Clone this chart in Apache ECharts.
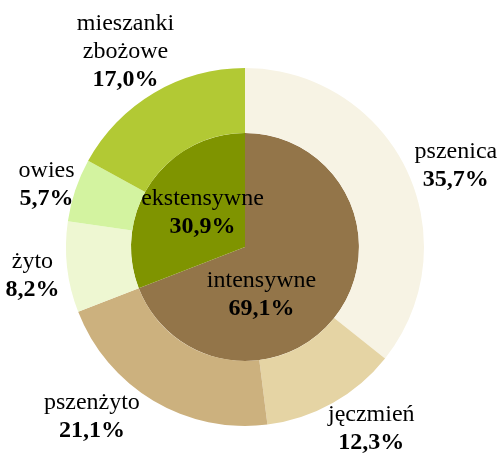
<!DOCTYPE html>
<html>
<head>
<meta charset="utf-8">
<script src="https://cdn.jsdelivr.net/npm/echarts@6/dist/echarts.min.js"></script>
<style>
  html, body { margin: 0; padding: 0; background: #fff; }
  #chart { width: 498px; height: 453px; }
</style>
</head>
<body>
<div id="chart"></div>
<script>
// udział gospodarstw (wewnętrzny pierścień) i zbóż (zewnętrzny)
const groupNames = ['intensywne', 'ekstensywne'];
const groupValues = [69.1, 30.9];
const groupColors = ['#937549', '#7F9400'];

const cropNames = ['pszenica', 'jęczmień', 'pszenżyto', 'żyto', 'owies', 'mieszanki\nzbożowe'];
const cropValues = [35.7, 12.3, 21.1, 8.2, 5.7, 17.0];
const cropColors = ['#F7F3E4', '#E5D4A4', '#CCB17E', '#EEF7D2', '#D3F3A0', '#B2C934'];

// drobne przesunięcia etykiet
const groupLabelShift = [[-33, 14], [7, 0]];
const cropLabelShift = [[10, 16], [17, -13], [-39, -22], [9, 4], [13, 9], [-6, -3]];

const fmt = v => v.toFixed(1).replace('.', ',') + '%';

const serif = 'Liberation Serif';
const rich = {
  n: { fontFamily: serif, fontSize: 24, lineHeight: 28, color: '#000' },
  v: { fontFamily: serif, fontSize: 24, lineHeight: 28, fontWeight: 'bold', color: '#000' }
};
const labelFormatter = p => p.name.split('\n').map(s => '{n|' + s + '}').join('\n') + '\n{v|' + fmt(p.value) + '}';

const chart = echarts.init(document.getElementById('chart'), null, { renderer: 'canvas' });
chart.setOption({
  animation: false,
  textStyle: { fontFamily: serif },
  series: [
    {
      type: 'pie',
      center: [245, 247],
      radius: [0, 114],
      label: { show: true, position: 'inside', fontFamily: serif, formatter: labelFormatter, rich: rich },
      labelLine: { show: false },
      labelLayout: p => ({ dx: groupLabelShift[p.dataIndex][0], dy: groupLabelShift[p.dataIndex][1] }),
      silent: true,
      data: groupNames.map((n, i) => ({ name: n, value: groupValues[i], itemStyle: { color: groupColors[i] } }))
    },
    {
      type: 'pie',
      center: [245, 247],
      radius: [114, 179],
      label: { show: false },
      labelLine: { show: false },
      silent: true,
      data: cropNames.map((n, i) => ({ name: n, value: cropValues[i], itemStyle: { color: cropColors[i] } }))
    },
    {
      // niewidoczny pierścień, tylko do rozmieszczenia etykiet zbóż
      type: 'pie',
      center: [245, 247],
      radius: [200, 240],
      itemStyle: { color: 'transparent' },
      label: { show: true, position: 'inside', fontFamily: serif, formatter: labelFormatter, rich: rich },
      labelLine: { show: false },
      labelLayout: p => ({ dx: cropLabelShift[p.dataIndex][0], dy: cropLabelShift[p.dataIndex][1] }),
      silent: true,
      data: cropNames.map((n, i) => ({ name: n, value: cropValues[i] }))
    }
  ]
});
</script>
</body>
</html>
